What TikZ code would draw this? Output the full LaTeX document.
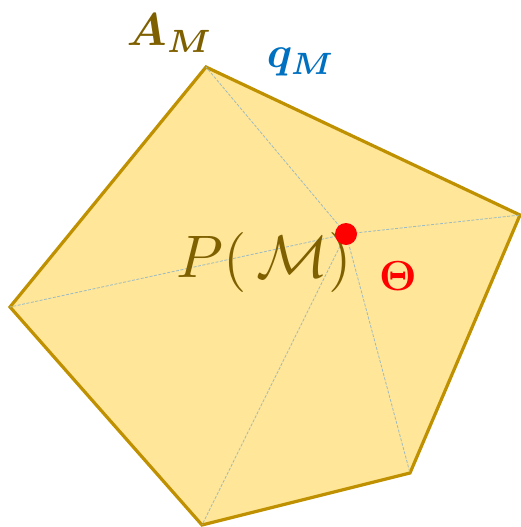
\documentclass[tikz,border=0pt]{standalone}
\usepackage{amsmath,bm,graphicx}
\definecolor{fillY}{HTML}{FFE699}
\definecolor{edgeG}{HTML}{BF9000}
\definecolor{brownT}{HTML}{7F6000}
\definecolor{blueT}{HTML}{0070C0}
\definecolor{diagL}{HTML}{9DBBC3}
\tikzset{
  poly/.style={fill=fillY, draw=edgeG, line width=3.2pt, line join=miter},
  diag/.style={draw=diagL, line width=0.8pt, dash pattern=on 3pt off 1.5pt},
}
\begin{document}
\begin{tikzpicture}[x=1pt,y=-1pt]
\useasboundingbox (0,0) rectangle (521,527);
\coordinate (v1) at (206,67);
\coordinate (v2) at (520,215);
\coordinate (v3) at (410,473);
\coordinate (v4) at (202,525);
\coordinate (v5) at (10,307);
\coordinate (c) at (346,234);
\draw[poly] (v1) -- (v2) -- (v3) -- (v4) -- (v5) -- cycle;
\foreach \v in {v1,v2,v3,v4,v5} \draw[diag] (c) -- (\v);
\node[text=brownT, inner sep=0pt] (P) at (264,262) {\scalebox{6}{$P(\,\mathcal{M})$}};
\fill[red] (c) circle (11);
\node[text=red, inner sep=0pt] (T) at (398,276) {\scalebox{4.2}{$\bm{\Theta}$}};
\node[text=brownT, inner sep=0pt] (A) at (170,33) {\scalebox{4.6}{$\bm{A_M}$}};
\node[text=blueT, inner sep=0pt] (q) at (301,62) {\scalebox{4.4}{$\bm{q_M}$}};
\end{tikzpicture}
\end{document}
